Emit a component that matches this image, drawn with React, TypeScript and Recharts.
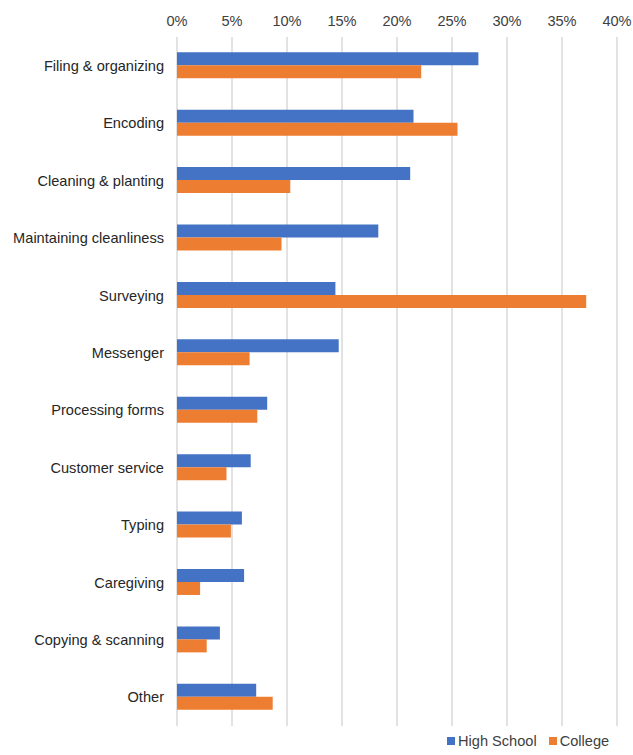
import { BarChart, Bar, XAxis, YAxis, CartesianGrid, Legend } from "recharts";

const categories = [
  "Filing & organizing",
  "Encoding",
  "Cleaning & planting",
  "Maintaining cleanliness",
  "Surveying",
  "Messenger",
  "Processing forms",
  "Customer service",
  "Typing",
  "Caregiving",
  "Copying & scanning",
  "Other",
];

const highSchool = [27.4, 21.5, 21.2, 18.3, 14.4, 14.7, 8.2, 6.7, 5.9, 6.1, 3.9, 7.2];
const college = [22.2, 25.5, 10.3, 9.5, 37.2, 6.6, 7.3, 4.5, 4.9, 2.1, 2.7, 8.7];

const xTicks = [0, 5, 10, 15, 20, 25, 30, 35, 40];

const BLUE = "#4472C4";
const ORANGE = "#ED7D31";
const FONT = "'Liberation Sans', Arial, sans-serif";
const FONT_SIZE = 14.6;

const data = categories.map((name, i) => ({
  name,
  highSchool: highSchool[i],
  college: college[i],
}));

function LegendContent() {
  const items = [
    { label: "High School", color: BLUE },
    { label: "College", color: ORANGE },
  ];
  return (
    <div style={{ display: "flex", fontFamily: FONT, fontSize: FONT_SIZE, color: "#404040" }}>
      {items.map((it) => (
        <div key={it.label} style={{ display: "flex", alignItems: "center", marginRight: 12 }}>
          <span
            style={{ width: 8, height: 8, background: it.color, display: "inline-block", marginRight: 3 }}
          />
          <span>{it.label}</span>
        </div>
      ))}
    </div>
  );
}

export default function App() {
  return (
    <div style={{ position: "absolute", left: 0, top: 0, width: 633, height: 755, background: "#fff" }}>
      <BarChart
        width={633}
        height={755}
        data={data}
        layout="vertical"
        margin={{ top: 7, right: 16, bottom: 29, left: 0 }}
        barCategoryGap="26.5%"
        barGap={0}
      >
        <CartesianGrid horizontal={false} stroke="#d9d9d9" strokeWidth={1.5} />
        <XAxis
          type="number"
          orientation="top"
          domain={[0, 40]}
          ticks={xTicks}
          interval={0}
          tickFormatter={(v) => `${v}%`}
          axisLine={false}
          tickLine={false}
          tickMargin={5}
          height={30}
          tick={{ fontSize: FONT_SIZE, fill: "#404040", fontFamily: FONT }}
        />
        <YAxis
          type="category"
          dataKey="name"
          width={177}
          axisLine={false}
          tickLine={false}
          tickMargin={7}
          interval={0}
          tick={{ fontSize: FONT_SIZE, fill: "#262626", fontFamily: FONT }}
        />
        <Legend
          layout="horizontal"
          verticalAlign="middle"
          align="center"
          content={() => <LegendContent />}
          wrapperStyle={{ left: 447, top: 733, width: 190, height: 20 }}
        />
        <Bar dataKey="highSchool" name="High School" fill={BLUE} isAnimationActive={false} />
        <Bar dataKey="college" name="College" fill={ORANGE} isAnimationActive={false} />
      </BarChart>
    </div>
  );
}
